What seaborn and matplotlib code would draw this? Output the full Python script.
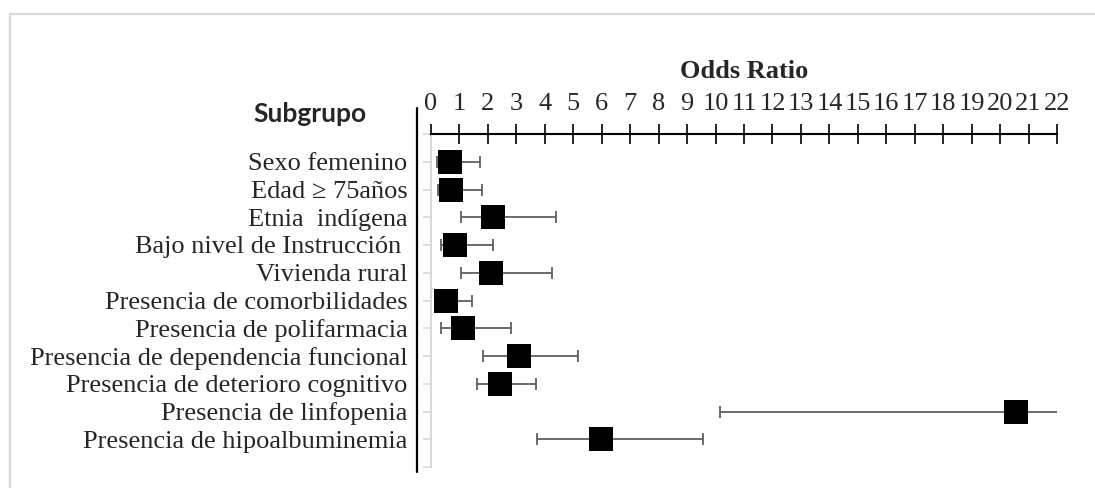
import pandas as pd
import seaborn as sns
import matplotlib.pyplot as plt
from matplotlib.lines import Line2D

# datos
subgrupos = ['Sexo femenino', 'Edad \u2265 75años', 'Etnia  indígena', 'Bajo nivel de Instrucción ',
             'Vivienda rural', 'Presencia de comorbilidades', 'Presencia de polifarmacia',
             'Presencia de dependencia funcional', 'Presencia de deterioro cognitivo',
             'Presencia de linfopenia', 'Presencia de hipoalbuminemia']
odds_ratio = [0.68, 0.72, 2.17, 0.83, 2.12, 0.53, 1.13, 3.09, 2.43, 20.55, 5.98]
ic_inf = [0.22, 0.23, 1.04, 0.34, 1.04, 0.25, 0.36, 1.84, 1.60, 10.16, 3.72]
ic_sup = [1.73, 1.80, 4.40, 2.17, 4.26, 1.44, 2.81, 5.15, 3.69, 23.5, 9.57]
x_ticks = list(range(0, 23))

df = pd.DataFrame({'Subgrupo': subgrupos, 'OR': odds_ratio, 'Inf': ic_inf, 'Sup': ic_sup})
df['pos'] = range(1, len(df) + 1)

sns.set_style('white')
plt.rcParams['font.family'] = ['Liberation Serif', 'DejaVu Serif']

fig = plt.figure(figsize=(10.95, 4.88), dpi=100)
ax = fig.add_axes([431 / 1095, 1 - 467 / 488, 626 / 1095, 333 / 488])

# intervalos de confianza
ax.errorbar(df['OR'], df['pos'],
            xerr=[df['OR'] - df['Inf'], df['Sup'] - df['OR']],
            fmt='none', ecolor='#5f5f5f', elinewidth=1.3, capsize=4.2, capthick=1.3, zorder=2)

sns.scatterplot(data=df, x='OR', y='pos', marker='s', s=280, color='black',
                linewidth=0, zorder=3, ax=ax, legend=False)

ax.set_xlim(0, 22)
ax.set_ylim(12, 0)
ax.set_xticks(x_ticks)
ax.set_xticklabels([str(t) for t in x_ticks], fontsize=19)
ax.set_yticks(range(0, 13))
ax.set_yticklabels([''] + subgrupos + [''], fontsize=19)

ax.xaxis.tick_top()
ax.xaxis.set_label_position('top')
ax.set_xlabel('Odds Ratio', fontsize=19, fontweight='bold', labelpad=11)
ax.set_ylabel('')

ax.tick_params(axis='x', direction='inout', length=15, width=1.2, color='black', pad=6, top=True, bottom=False)
ax.tick_params(axis='y', direction='out', length=6, width=1.2, color='#d9d9d9', pad=11, left=True)

for lado in ['right', 'bottom']:
    ax.spines[lado].set_visible(False)
ax.spines['top'].set_color('black')
ax.spines['top'].set_linewidth(1.5)
ax.spines['left'].set_color('#d9d9d9')
ax.spines['left'].set_linewidth(1.5)

# encabezado de la columna
fig.text(310 / 1095, 1 - 114 / 488, 'Subgrupo', family=['Lato', 'DejaVu Sans'],
         fontweight='bold', fontsize=19, ha='center', va='center')

# línea divisoria y marco exterior
fig.add_artist(Line2D([416.7 / 1095] * 2, [1 - 108 / 488, 1 - 472 / 488], color='black', lw=1.6))
fig.add_artist(Line2D([10 / 1095, 10 / 1095, 1.0], [0.0, 1 - 14 / 488, 1 - 14 / 488], color='#d9d9d9', lw=1.6))

plt.savefig('out.png', dpi=100)
